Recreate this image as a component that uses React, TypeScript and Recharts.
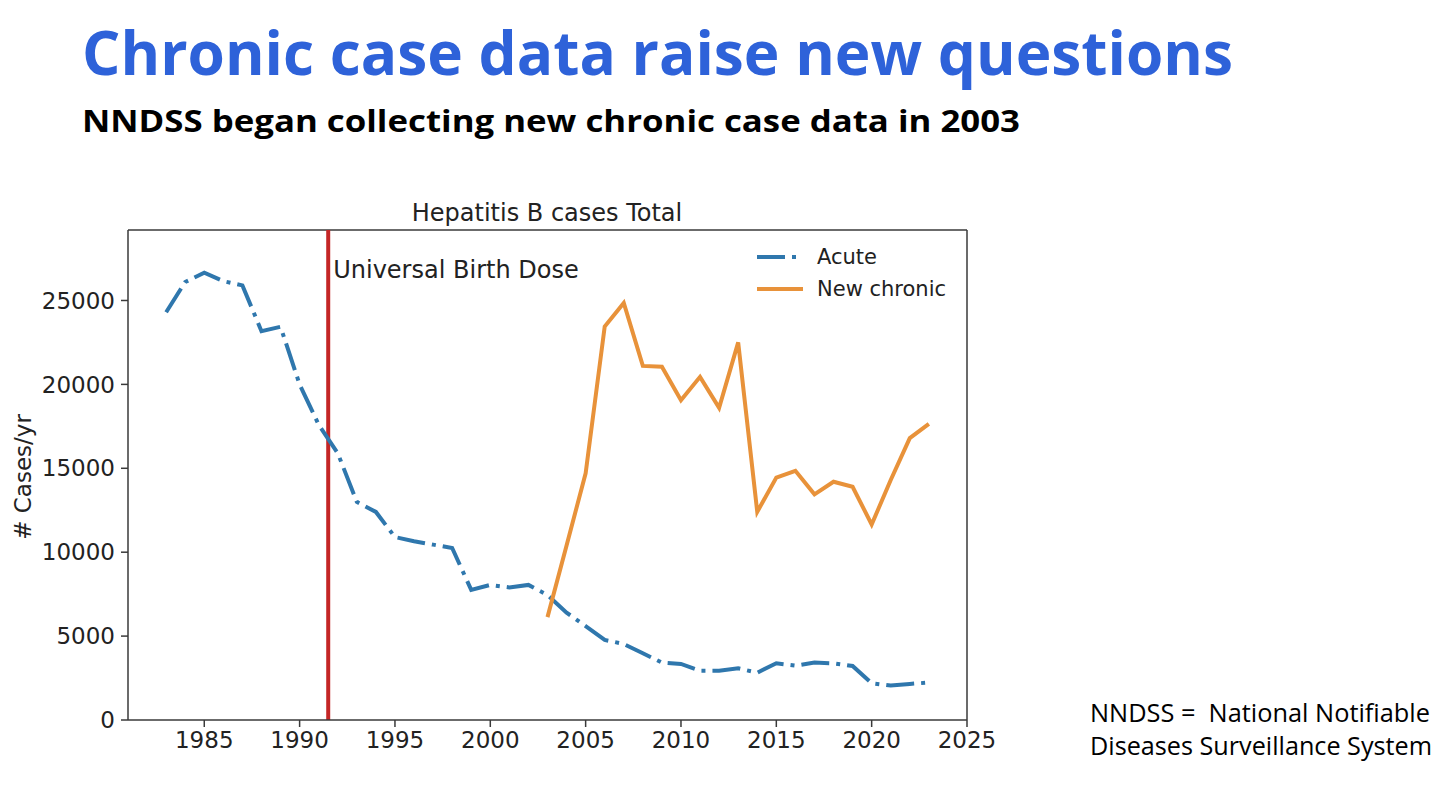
import { LineChart, Line, XAxis, YAxis, ReferenceLine, Legend } from 'recharts'

// Hepatitis B reported cases per year (NNDSS)
const years = [
  1983, 1984, 1985, 1986, 1987, 1988, 1989, 1990, 1991, 1992,
  1993, 1994, 1995, 1996, 1997, 1998, 1999, 2000, 2001, 2002,
  2003, 2004, 2005, 2006, 2007, 2008, 2009, 2010, 2011, 2012,
  2013, 2014, 2015, 2016, 2017, 2018, 2019, 2020, 2021, 2022, 2023,
]

const acuteCases = [
  24300, 26100, 26650, 26150, 25900, 23170, 23430, 20000, 17600, 15900,
  13000, 12400, 10900, 10650, 10450, 10250, 7750, 8050, 7900, 8050,
  7450, 6400, 5600, 4770, 4530, 3980, 3420, 3340, 2940, 2940,
  3080, 2820, 3380, 3240, 3420, 3380, 3220, 2190, 2050, 2150, 2230,
]

// chronic reporting starts in 2003
const chronicStartYear = 2003
const newChronicCases = [
  6130, 10400, 14700, 23450, 24850, 21100, 21050, 19050, 20450, 18600,
  22500, 12400, 14450, 14850, 13450, 14200, 13900, 11650, 14300, 16800, 17650,
]

const xTicks = [1985, 1990, 1995, 2000, 2005, 2010, 2015, 2020, 2025]
const yTicks = [0, 5000, 10000, 15000, 20000, 25000]
const birthDoseYear = 1991.5

const X_MIN = 1981
const X_MAX = 2025
const Y_MAX = 29200

const ACUTE_COLOR = '#2f77ad'
const CHRONIC_COLOR = '#e8923a'
const AXIS_COLOR = '#3a3a3a'
const TEXT_COLOR = '#222'
const PLOT_FONT = '"DejaVu Sans", Verdana, sans-serif'
const SLIDE_FONT = '"Open Sans", "Noto Sans", sans-serif'

const chartData = years.map((year, i) => {
  const ci = year - chronicStartYear
  return {
    year,
    acute: acuteCases[i],
    chronic: ci >= 0 ? newChronicCases[ci] : null,
  }
})

const legendItems = [
  { label: 'Acute', color: ACUTE_COLOR, dash: '28 7 4 7' },
  { label: 'New chronic', color: CHRONIC_COLOR, dash: undefined },
]

function ChartLegend() {
  return (
    <div style={{ fontFamily: PLOT_FONT, fontSize: 21, color: TEXT_COLOR }}>
      {legendItems.map((item) => (
        <div key={item.label} style={{ display: 'flex', alignItems: 'center', height: 32 }}>
          <svg width={46} height={10} style={{ display: 'block' }}>
            <line
              x1={0}
              y1={5}
              x2={46}
              y2={5}
              stroke={item.color}
              strokeWidth={4}
              strokeDasharray={item.dash}
            />
          </svg>
          <span style={{ marginLeft: 14, whiteSpace: 'nowrap' }}>{item.label}</span>
        </div>
      ))}
    </div>
  )
}

function BirthDoseLabel({ viewBox }: any) {
  if (!viewBox) return null
  return (
    <text
      x={viewBox.x + 5}
      y={viewBox.y + 48}
      fontFamily={PLOT_FONT}
      fontSize={24}
      fill={TEXT_COLOR}
    >
      Universal Birth Dose
    </text>
  )
}

const tickStyle = { fontFamily: PLOT_FONT, fontSize: 23, fill: TEXT_COLOR }

export default function App() {
  return (
    <div
      style={{
        position: 'fixed',
        left: 0,
        top: 0,
        width: 1456,
        height: 790,
        background: '#fff',
        overflow: 'hidden',
      }}
    >
      <div style={{ position: 'absolute', left: 0, top: 0 }}>
        <LineChart
          width={1456}
          height={790}
          data={chartData}
          margin={{ top: 230, right: 489, bottom: 0, left: 0 }}
        >
          <XAxis
            type="number"
            dataKey="year"
            domain={[X_MIN, X_MAX]}
            ticks={xTicks}
            height={70}
            tickSize={7}
            tickMargin={5}
            tick={tickStyle}
            stroke={AXIS_COLOR}
            strokeWidth={1.5}
            allowDataOverflow
          />
          <YAxis
            type="number"
            domain={[0, Y_MAX]}
            ticks={yTicks}
            width={128}
            tickSize={7}
            tickMargin={6}
            tick={tickStyle}
            stroke={AXIS_COLOR}
            strokeWidth={1.5}
            allowDataOverflow
          />
          {/* top and right frame of the axes box */}
          <ReferenceLine y={Y_MAX} stroke={AXIS_COLOR} strokeWidth={1.5} />
          <ReferenceLine x={X_MAX} stroke={AXIS_COLOR} strokeWidth={1.5} />
          <ReferenceLine
            x={birthDoseYear}
            stroke="#c42626"
            strokeWidth={4}
            label={<BirthDoseLabel />}
          />
          <Line
            type="linear"
            dataKey="acute"
            name="Acute"
            stroke={ACUTE_COLOR}
            strokeWidth={4}
            strokeDasharray="28 7 4 7"
            dot={false}
            activeDot={false}
            isAnimationActive={false}
          />
          <Line
            type="linear"
            dataKey="chronic"
            name="New chronic"
            stroke={CHRONIC_COLOR}
            strokeWidth={4}
            dot={false}
            activeDot={false}
            connectNulls={false}
            isAnimationActive={false}
          />
          <Legend
            layout="vertical"
            align="center"
            verticalAlign="middle"
            content={<ChartLegend />}
            wrapperStyle={{ left: 757, top: 241, width: 220, height: 64 }}
          />
        </LineChart>
      </div>

      <svg
        width={1456}
        height={790}
        style={{ position: 'absolute', left: 0, top: 0, pointerEvents: 'none' }}
      >
        <text
          x={82}
          y={75}
          fontFamily={SLIDE_FONT}
          fontWeight={700}
          fontSize={60}
          fill="#2e62d9"
          textLength={1151}
          lengthAdjust="spacingAndGlyphs"
        >
          Chronic case data raise new questions
        </text>
        <text
          x={82}
          y={132}
          fontFamily={SLIDE_FONT}
          fontWeight={700}
          fontSize={31}
          fill="#000"
          textLength={938}
          lengthAdjust="spacingAndGlyphs"
        >
          NNDSS began collecting new chronic case data in 2003
        </text>

        <text
          x={547}
          y={221}
          textAnchor="middle"
          fontFamily={PLOT_FONT}
          fontSize={24}
          fill={TEXT_COLOR}
        >
          Hepatitis B cases Total
        </text>
        <text
          x={31}
          y={477}
          transform="rotate(-90 31 477)"
          textAnchor="middle"
          fontFamily={PLOT_FONT}
          fontSize={23}
          fill={TEXT_COLOR}
        >
          # Cases/yr
        </text>

        <text
          x={1090}
          y={722}
          fontFamily={SLIDE_FONT}
          fontSize={25}
          fill="#000"
          textLength={340}
          lengthAdjust="spacingAndGlyphs"
        >
          {'NNDSS =\u00a0 National Notifiable'}
        </text>
        <text
          x={1090}
          y={755}
          fontFamily={SLIDE_FONT}
          fontSize={25}
          fill="#000"
          textLength={342}
          lengthAdjust="spacingAndGlyphs"
        >
          Diseases Surveillance System
        </text>
      </svg>
    </div>
  )
}
